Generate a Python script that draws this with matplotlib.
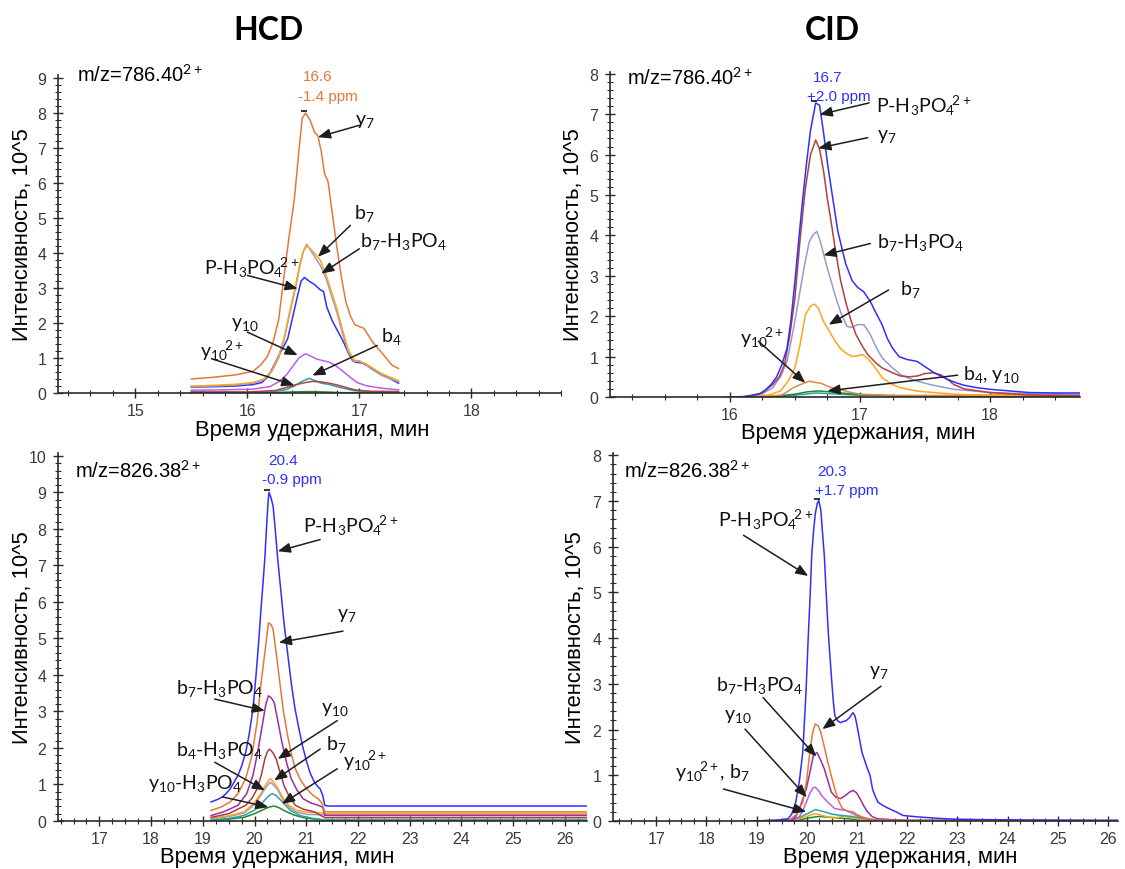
import matplotlib
matplotlib.use("Agg")
import matplotlib.pyplot as plt
import matplotlib.transforms as mtransforms
from matplotlib.ticker import MultipleLocator

plt.rcParams['font.family'] = ['Liberation Sans', 'DejaVu Sans']
plt.rcParams['mathtext.fontset'] = 'custom'
plt.rcParams['mathtext.rm'] = 'Lato'
plt.rcParams['mathtext.it'] = 'Lato:italic'
plt.rcParams['mathtext.bf'] = 'Lato:bold'

# ---------------------------------------------------------------- data
# HCD, m/z 786.40 (2+)
hcd786_y7_t = [15.50, 15.70, 15.90, 16.05, 16.12, 16.18, 16.23, 16.28, 16.32, 16.37, 16.42, 16.46, 16.49, 16.52, 16.56, 16.60, 16.63, 16.66, 16.69, 16.72, 16.76, 16.80, 16.84, 16.88, 16.92, 16.96, 17.00, 17.04, 17.08, 17.12, 17.20, 17.29, 17.35]
hcd786_y7_i = [0.40, 0.45, 0.52, 0.62, 0.80, 1.05, 1.45, 2.10, 3.15, 4.40, 5.55, 6.90, 7.85, 8.00, 7.80, 7.45, 7.35, 6.90, 6.25, 6.05, 5.10, 4.15, 3.30, 2.60, 2.20, 1.95, 1.90, 1.85, 1.65, 1.45, 1.15, 0.80, 0.70]
hcd786_b7_t = [15.50, 15.70, 15.90, 16.05, 16.15, 16.22, 16.28, 16.33, 16.38, 16.43, 16.47, 16.50, 16.53, 16.57, 16.61, 16.65, 16.70, 16.75, 16.80, 16.85, 16.90, 16.95, 17.00, 17.05, 17.10, 17.20, 17.35]
hcd786_b7_i = [0.20, 0.22, 0.25, 0.30, 0.40, 0.65, 1.05, 1.60, 2.35, 3.05, 3.70, 4.05, 4.20, 4.10, 3.95, 3.80, 3.40, 2.90, 2.40, 1.80, 1.25, 0.95, 0.90, 0.85, 0.75, 0.55, 0.35]
hcd786_b7h_t = [15.50, 15.70, 15.90, 16.05, 16.15, 16.22, 16.28, 16.33, 16.38, 16.43, 16.47, 16.50, 16.53, 16.57, 16.61, 16.65, 16.70, 16.75, 16.80, 16.85, 16.90, 16.95, 17.00, 17.05, 17.10, 17.20, 17.35]
hcd786_b7h_i = [0.18, 0.20, 0.23, 0.28, 0.38, 0.62, 1.00, 1.55, 2.30, 3.00, 3.65, 4.05, 4.25, 4.05, 3.85, 3.65, 3.30, 2.80, 2.30, 1.70, 1.18, 0.90, 0.92, 0.82, 0.70, 0.50, 0.32]
hcd786_p_t = [15.50, 15.70, 15.90, 16.05, 16.13, 16.18, 16.22, 16.27, 16.32, 16.36, 16.40, 16.45, 16.48, 16.51, 16.55, 16.60, 16.65, 16.68, 16.71, 16.76, 16.81, 16.86, 16.90, 16.94, 16.97, 17.02, 17.06, 17.11, 17.16, 17.25, 17.35]
hcd786_p_i = [0.17, 0.18, 0.20, 0.24, 0.30, 0.45, 0.68, 1.00, 1.30, 1.55, 2.10, 2.80, 3.20, 3.30, 3.20, 3.10, 2.95, 2.90, 2.45, 2.05, 1.75, 1.45, 1.15, 0.92, 0.88, 0.86, 0.80, 0.72, 0.60, 0.45, 0.28]
hcd786_y10_t = [15.50, 15.80, 16.05, 16.20, 16.28, 16.35, 16.41, 16.46, 16.52, 16.57, 16.62, 16.68, 16.73, 16.78, 16.83, 16.88, 16.93, 16.98, 17.05, 17.15, 17.25, 17.35]
hcd786_y10_i = [0.08, 0.09, 0.11, 0.18, 0.32, 0.52, 0.78, 1.00, 1.12, 1.05, 0.97, 0.92, 0.88, 0.80, 0.68, 0.55, 0.42, 0.30, 0.22, 0.16, 0.12, 0.09]
hcd786_b4_t = [15.50, 16.00, 16.25, 16.35, 16.42, 16.48, 16.55, 16.60, 16.66, 16.72, 16.80, 16.88, 16.95, 17.05, 17.20, 17.35]
hcd786_b4_i = [0.02, 0.02, 0.04, 0.10, 0.20, 0.32, 0.42, 0.36, 0.28, 0.25, 0.18, 0.12, 0.07, 0.04, 0.03, 0.02]
hcd786_y10z_t = [15.50, 16.00, 16.25, 16.36, 16.45, 16.52, 16.58, 16.65, 16.73, 16.80, 16.86, 16.92, 16.98, 17.10, 17.35]
hcd786_y10z_i = [0.03, 0.03, 0.07, 0.17, 0.25, 0.30, 0.33, 0.32, 0.28, 0.23, 0.18, 0.12, 0.08, 0.05, 0.04]
hcd786_g_t = [15.50, 16.20, 16.40, 16.55, 16.70, 16.85, 17.35]
hcd786_g_i = [0.01, 0.01, 0.03, 0.04, 0.03, 0.01, 0.01]

# CID, m/z 786.40 (2+)
cid786_p_t = [15.97, 16.10, 16.17, 16.23, 16.28, 16.32, 16.36, 16.40, 16.44, 16.47, 16.50, 16.53, 16.56, 16.59, 16.62, 16.66, 16.69, 16.72, 16.75, 16.78, 16.83, 16.89, 16.94, 16.98, 17.03, 17.08, 17.12, 17.17, 17.21, 17.25, 17.30, 17.36, 17.44, 17.50, 17.56, 17.62, 17.67, 17.74, 17.80, 17.90, 18.00, 18.15, 18.30, 18.50, 18.70]
cid786_p_i = [0.00, 0.01, 0.03, 0.08, 0.19, 0.32, 0.50, 0.80, 1.21, 1.90, 2.85, 3.90, 4.90, 5.80, 6.60, 7.28, 7.22, 6.55, 5.80, 5.15, 4.10, 3.30, 2.88, 2.72, 2.60, 2.36, 2.10, 1.79, 1.45, 1.21, 1.00, 0.93, 0.88, 0.75, 0.62, 0.52, 0.44, 0.35, 0.29, 0.23, 0.19, 0.15, 0.11, 0.10, 0.10]
cid786_y7_t = [16.10, 16.25, 16.33, 16.38, 16.42, 16.46, 16.50, 16.54, 16.58, 16.62, 16.66, 16.69, 16.72, 16.75, 16.78, 16.81, 16.85, 16.89, 16.93, 16.97, 17.02, 17.06, 17.12, 17.17, 17.25, 17.31, 17.38, 17.44, 17.50, 17.56, 17.62, 17.68, 17.72, 17.80, 18.00, 18.30, 18.70]
cid786_y7_i = [0.00, 0.10, 0.31, 0.50, 0.80, 1.50, 2.44, 3.90, 5.15, 6.00, 6.36, 6.13, 5.60, 4.90, 4.30, 3.67, 2.90, 2.36, 1.90, 1.54, 1.25, 1.05, 0.85, 0.72, 0.60, 0.52, 0.50, 0.52, 0.58, 0.60, 0.55, 0.42, 0.31, 0.20, 0.11, 0.05, 0.03]
cid786_b7h_t = [16.10, 16.25, 16.33, 16.39, 16.44, 16.49, 16.53, 16.57, 16.61, 16.64, 16.67, 16.70, 16.74, 16.78, 16.82, 16.86, 16.90, 16.94, 16.98, 17.03, 17.08, 17.13, 17.17, 17.24, 17.31, 17.38, 17.44, 17.55, 17.72, 17.90, 18.00, 18.30, 18.70]
cid786_b7h_i = [0.00, 0.08, 0.23, 0.50, 0.89, 1.70, 2.44, 3.20, 3.84, 4.02, 4.10, 3.80, 3.30, 2.85, 2.40, 2.03, 1.75, 1.72, 1.79, 1.79, 1.54, 1.20, 0.97, 0.75, 0.56, 0.46, 0.39, 0.30, 0.19, 0.14, 0.11, 0.08, 0.07]
cid786_b7_t = [16.10, 16.30, 16.39, 16.45, 16.50, 16.54, 16.58, 16.62, 16.65, 16.68, 16.72, 16.77, 16.81, 16.85, 16.89, 16.94, 16.98, 17.02, 17.06, 17.10, 17.17, 17.24, 17.31, 17.45, 17.72, 18.00, 18.70]
cid786_b7_i = [0.00, 0.05, 0.15, 0.40, 0.72, 1.30, 2.03, 2.25, 2.30, 2.20, 1.87, 1.60, 1.38, 1.20, 1.09, 1.00, 1.02, 1.05, 0.95, 0.80, 0.48, 0.32, 0.23, 0.14, 0.07, 0.04, 0.02]
cid786_y10z_t = [16.20, 16.40, 16.50, 16.56, 16.61, 16.66, 16.70, 16.75, 16.80, 16.86, 16.92, 17.00, 17.20, 17.60, 18.00, 18.70]
cid786_y10z_i = [0.00, 0.05, 0.25, 0.33, 0.39, 0.36, 0.34, 0.27, 0.21, 0.17, 0.12, 0.07, 0.04, 0.04, 0.05, 0.06]
cid786_b4_t = [16.30, 16.50, 16.60, 16.68, 16.76, 16.85, 17.00, 17.30, 18.70]
cid786_b4_i = [0.00, 0.07, 0.13, 0.15, 0.13, 0.10, 0.06, 0.03, 0.02]
cid786_y10_t = [16.30, 16.55, 16.66, 16.78, 16.95, 17.30, 18.70]
cid786_y10_i = [0.00, 0.06, 0.10, 0.08, 0.05, 0.02, 0.01]

# HCD, m/z 826.38 (2+)
hcd826_p_t = [19.16, 19.30, 19.38, 19.45, 19.53, 19.60, 19.68, 19.75, 19.83, 19.90, 19.97, 20.03, 20.08, 20.12, 20.16, 20.20, 20.23, 20.26, 20.28, 20.32, 20.36, 20.40, 20.45, 20.51, 20.57, 20.64, 20.71, 20.78, 20.86, 20.93, 21.01, 21.08, 21.16, 21.22, 21.27, 21.32, 21.36, 21.42, 26.43]
hcd826_p_i = [0.52, 0.60, 0.66, 0.75, 0.88, 1.05, 1.25, 1.50, 1.88, 2.40, 3.07, 4.00, 4.89, 5.70, 6.43, 7.20, 7.98, 8.70, 9.00, 8.85, 8.62, 8.00, 7.16, 6.30, 5.43, 4.60, 3.79, 3.10, 2.52, 2.05, 1.61, 1.30, 1.06, 0.95, 0.88, 0.70, 0.43, 0.41, 0.41]
hcd826_y7_t = [19.16, 19.35, 19.53, 19.68, 19.83, 19.95, 20.05, 20.12, 20.20, 20.27, 20.32, 20.36, 20.42, 20.49, 20.56, 20.64, 20.72, 20.79, 20.90, 21.01, 21.12, 21.23, 21.30, 21.36, 21.42, 26.43]
hcd826_y7_i = [0.29, 0.38, 0.52, 0.75, 1.16, 1.80, 2.70, 3.70, 4.61, 5.43, 5.38, 5.25, 4.60, 3.79, 3.00, 2.34, 1.80, 1.43, 1.10, 0.88, 0.72, 0.61, 0.50, 0.25, 0.25, 0.25]
hcd826_b7h_t = [19.16, 19.40, 19.68, 19.85, 19.97, 20.07, 20.16, 20.22, 20.27, 20.32, 20.38, 20.45, 20.53, 20.62, 20.71, 20.82, 20.94, 21.08, 21.23, 21.32, 21.36, 26.43]
hcd826_b7h_i = [0.15, 0.25, 0.43, 0.75, 1.25, 1.95, 2.70, 3.20, 3.43, 3.38, 3.25, 2.75, 2.16, 1.60, 1.16, 0.85, 0.61, 0.50, 0.43, 0.38, 0.15, 0.15]
hcd826_y10_t = [19.16, 19.50, 19.83, 19.95, 20.05, 20.13, 20.20, 20.25, 20.29, 20.35, 20.42, 20.50, 20.57, 20.68, 20.79, 20.95, 21.16, 21.36, 26.43]
hcd826_y10_i = [0.10, 0.20, 0.43, 0.62, 0.88, 1.25, 1.70, 1.90, 1.97, 1.88, 1.70, 1.30, 0.97, 0.65, 0.43, 0.32, 0.25, 0.09, 0.09]
hcd826_b7_t = [19.16, 19.50, 19.80, 20.00, 20.12, 20.22, 20.28, 20.31, 20.36, 20.45, 20.60, 20.80, 21.00, 21.30, 21.36, 26.43]
hcd826_b7_i = [0.08, 0.14, 0.25, 0.50, 0.75, 1.00, 1.12, 1.16, 1.08, 0.90, 0.50, 0.30, 0.24, 0.22, 0.20, 0.20]
hcd826_b4h_t = [19.16, 19.50, 19.80, 20.00, 20.12, 20.22, 20.30, 20.36, 20.45, 20.60, 20.80, 21.00, 21.30, 21.36, 26.43]
hcd826_b4h_i = [0.06, 0.12, 0.22, 0.45, 0.70, 0.92, 1.06, 1.00, 0.85, 0.45, 0.25, 0.18, 0.17, 0.17, 0.17]
hcd826_y10z_t = [19.16, 19.50, 19.80, 20.00, 20.15, 20.27, 20.34, 20.42, 20.52, 20.70, 20.90, 21.10, 21.36, 26.43]
hcd826_y10z_i = [0.03, 0.07, 0.15, 0.30, 0.50, 0.68, 0.75, 0.70, 0.55, 0.28, 0.14, 0.08, 0.03, 0.03]
hcd826_y10h_t = [19.16, 19.50, 19.80, 20.00, 20.15, 20.28, 20.38, 20.48, 20.58, 20.75, 20.95, 21.15, 21.36, 26.43]
hcd826_y10h_i = [0.02, 0.05, 0.10, 0.20, 0.30, 0.38, 0.41, 0.36, 0.28, 0.17, 0.09, 0.05, 0.02, 0.01]

# CID, m/z 826.38 (2+)
cid826_p_t = [18.90, 19.35, 19.63, 19.70, 19.78, 19.85, 19.92, 19.98, 20.03, 20.07, 20.10, 20.14, 20.17, 20.21, 20.24, 20.28, 20.31, 20.35, 20.38, 20.43, 20.49, 20.53, 20.56, 20.61, 20.67, 20.73, 20.78, 20.85, 20.92, 20.96, 20.99, 21.05, 21.10, 21.16, 21.21, 21.26, 21.31, 21.36, 21.42, 21.53, 21.64, 21.78, 21.92, 22.21, 22.60, 22.92, 23.50, 24.50, 25.78, 26.20]
cid826_p_i = [0.00, 0.01, 0.05, 0.15, 0.41, 0.85, 1.50, 2.70, 4.04, 5.00, 5.85, 6.40, 6.72, 6.95, 7.01, 6.80, 6.36, 5.80, 5.13, 4.10, 3.17, 2.60, 2.30, 2.20, 2.15, 2.18, 2.19, 2.26, 2.37, 2.30, 2.15, 1.80, 1.50, 1.30, 1.14, 1.00, 0.70, 0.55, 0.41, 0.33, 0.27, 0.20, 0.12, 0.09, 0.06, 0.04, 0.03, 0.02, 0.01, 0.01]
cid826_y7_t = [18.90, 19.63, 19.80, 19.92, 20.00, 20.06, 20.12, 20.17, 20.23, 20.28, 20.35, 20.42, 20.49, 20.56, 20.63, 20.71, 20.80, 20.92, 21.00, 21.10, 21.30, 22.00, 26.20]
cid826_y7_i = [0.00, 0.00, 0.15, 0.41, 0.90, 1.50, 1.95, 2.12, 2.08, 1.94, 1.62, 1.28, 0.98, 0.70, 0.45, 0.27, 0.22, 0.20, 0.14, 0.09, 0.03, 0.01, 0.01]
cid826_b7h_t = [18.90, 19.70, 19.78, 19.88, 19.99, 20.07, 20.13, 20.20, 20.27, 20.35, 20.42, 20.49, 20.58, 20.67, 20.76, 20.85, 20.92, 20.99, 21.06, 21.14, 21.21, 21.30, 21.40, 22.00, 26.20]
cid826_b7h_i = [0.00, 0.02, 0.09, 0.35, 0.70, 1.10, 1.43, 1.50, 1.35, 1.14, 0.88, 0.63, 0.52, 0.49, 0.55, 0.63, 0.67, 0.62, 0.49, 0.32, 0.20, 0.10, 0.05, 0.01, 0.01]
cid826_y10_t = [18.90, 19.75, 19.85, 19.92, 19.99, 20.06, 20.12, 20.17, 20.24, 20.30, 20.35, 20.45, 20.56, 20.67, 20.78, 20.88, 20.99, 21.10, 21.21, 21.40, 22.00, 26.20]
cid826_y10_i = [0.00, 0.03, 0.09, 0.22, 0.41, 0.60, 0.72, 0.74, 0.66, 0.55, 0.49, 0.38, 0.27, 0.25, 0.23, 0.18, 0.12, 0.08, 0.05, 0.02, 0.01, 0.01]
cid826_y10z_t = [18.90, 19.70, 19.90, 20.05, 20.17, 20.25, 20.35, 20.50, 20.70, 20.90, 21.10, 21.40, 22.00, 26.20]
cid826_y10z_i = [0.00, 0.02, 0.10, 0.18, 0.25, 0.23, 0.20, 0.15, 0.12, 0.10, 0.06, 0.02, 0.01, 0.01]
cid826_b7_t = [18.90, 19.70, 19.95, 20.10, 20.18, 20.30, 20.45, 20.60, 20.72, 20.85, 21.00, 21.20, 21.50, 26.20]
cid826_b7_i = [0.00, 0.01, 0.08, 0.14, 0.16, 0.12, 0.08, 0.07, 0.11, 0.08, 0.05, 0.03, 0.01, 0.00]
cid826_g_t = [18.90, 19.80, 20.05, 20.25, 20.45, 20.70, 21.00, 21.40, 26.20]
cid826_g_i = [0.00, 0.01, 0.07, 0.10, 0.08, 0.06, 0.03, 0.01, 0.00]

# peak labels: retention time and mass error
apex_labels = [("16.6", "-1.4 ppm"), ("16.7", "+2.0 ppm"), ("20.4", "-0.9 ppm"), ("20.3", "+1.7 ppm")]
precursor_labels = ["m/z=786.40$^{2+}$", "m/z=786.40$^{2+}$", "m/z=826.38$^{2+}$", "m/z=826.38$^{2+}$"]
column_titles = ["HCD", "CID"]

# ion labels (mathtext)
P_ION = r"P-H$_3$PO$_4\!{}^{2+}$"
Y10_2 = r"y$_{10}\!{}^{2+}$"

# ---------------------------------------------------------------- style
BLUE = '#2f2fff'
ORANGE = '#e4783a'
YELLOW = '#ffa41c'
LAVENDER = '#9a98cc'
VIOLET = '#b462ee'
MAGENTA = '#9a2f9a'
BROWN = '#b2403f'
DKRED = '#a83a4a'
PEACH = '#e08650'
TEAL = '#25a5a5'
GREEN = '#1f8a2a'
ARROW = '#1e1e1e'
TICK = '#3a3a3a'

W, H = 1125, 870
fig = plt.figure(figsize=(W / 100, H / 100), dpi=100)


def add_panel(left, top, right, bottom, xlim, ylim, xminor):
    ax = fig.add_axes([left / W, 1 - bottom / H, (right - left) / W, (bottom - top) / H])
    ax.set_xlim(*xlim)
    ax.set_ylim(*ylim)
    for side in ('top', 'right'):
        ax.spines[side].set_visible(False)
    for side in ('left', 'bottom'):
        ax.spines[side].set_color('#2a2a2a')
        ax.spines[side].set_linewidth(1.2)
    ax.xaxis.set_major_locator(MultipleLocator(1))
    ax.xaxis.set_minor_locator(MultipleLocator(xminor))
    ax.yaxis.set_major_locator(MultipleLocator(1))
    ax.yaxis.set_minor_locator(MultipleLocator(0.2))
    ax.tick_params(which='major', direction='inout', length=7, width=1.0, color='#2a2a2a',
                   labelsize=11.5, labelcolor=TICK, pad=4)
    ax.tick_params(which='minor', direction='inout', length=4, width=0.8, color='#2a2a2a')
    ax.tick_params(axis='y', which='major', pad=5)
    return ax


def draw(ax, series):
    for t, i, c in series:
        ax.plot(t, i, color=c, lw=1.1, solid_joinstyle='round')


def apex(ax, t, i):
    # short dark tick at the apex of the labelled trace
    k = max(range(len(i)), key=lambda n: i[n])
    off = mtransforms.offset_copy(ax.transData, fig=fig, x=-2, y=2, units='dots')
    ax.plot([t[k]], [i[k]], marker='_', ms=5, mew=1.3, color='#222222', transform=off, clip_on=False)


def note(ax, label, txt, tail, head):
    ax.annotate('', xy=head, xytext=tail,
                arrowprops=dict(arrowstyle='-|>,head_length=0.75,head_width=0.3', color=ARROW,
                                lw=1.1, shrinkA=0, shrinkB=0))
    ax.text(txt[0], txt[1], label, ha='left', va='center', fontsize=14, family='Lato',
            color='#111111', clip_on=False)


def ppm(ax, labels, p1, p2, color):
    ax.text(p1[0], p1[1], labels[0], ha='center', va='center', fontsize=11, color=color, clip_on=False)
    ax.text(p2[0], p2[1], labels[1], ha='center', va='center', fontsize=11, color=color, clip_on=False)


def axis_titles(cx_x, cy_x, cx_y, cy_y):
    fig.text(cx_x / W, 1 - cy_x / H, "Время удержания, мин", ha='center', va='center', fontsize=15.8)
    fig.text(cx_y / W, 1 - cy_y / H, "Интенсивность, 10^5", ha='center', va='center', fontsize=15.8,
             rotation=90)


# ---------------------------------------------------------------- HCD 786.40
ax1 = add_panel(58, 75.5, 561, 394, (14.31, 18.80), (0, 9.1), 0.2)
draw(ax1, [(hcd786_g_t, hcd786_g_i, GREEN), (hcd786_b4_t, hcd786_b4_i, TEAL),
           (hcd786_y10z_t, hcd786_y10z_i, BROWN), (hcd786_y10_t, hcd786_y10_i, VIOLET),
           (hcd786_p_t, hcd786_p_i, BLUE), (hcd786_b7h_t, hcd786_b7h_i, LAVENDER),
           (hcd786_b7_t, hcd786_b7_i, YELLOW), (hcd786_y7_t, hcd786_y7_i, ORANGE)])
apex(ax1, hcd786_y7_t, hcd786_y7_i)
ppm(ax1, apex_labels[0], (16.63, 9.05), (16.72, 8.50), ORANGE)
note(ax1, "y$_7$", (16.96, 7.79), (17.00, 7.65), (16.63, 7.31))
note(ax1, "b$_7$", (16.95, 5.17), (16.92, 4.79), (16.63, 3.89))
note(ax1, "b$_7$-H$_3$PO$_4$", (17.01, 4.36), (17.00, 4.12), (16.66, 3.41))
note(ax1, P_ION, (15.61, 3.60), (16.00, 3.36), (16.45, 2.98))
note(ax1, "y$_{10}$", (15.85, 1.98), (16.00, 1.74), (16.45, 1.08))
note(ax1, Y10_2, (15.58, 1.22), (15.68, 0.98), (16.42, 0.22))
note(ax1, "b$_4$", (17.19, 1.65), (17.16, 1.36), (16.58, 0.50))
axis_titles(312, 431, 23, 235)

# ---------------------------------------------------------------- CID 786.40
ax2 = add_panel(610, 72.8, 1080, 398, (15.08, 18.69), (0, 8.05), 0.25)
draw(ax2, [(cid786_y10_t, cid786_y10_i, TEAL), (cid786_b4_t, cid786_b4_i, GREEN),
           (cid786_y10z_t, cid786_y10z_i, PEACH), (cid786_b7_t, cid786_b7_i, YELLOW),
           (cid786_b7h_t, cid786_b7h_i, LAVENDER), (cid786_y7_t, cid786_y7_i, BROWN),
           (cid786_p_t, cid786_p_i, BLUE)])
apex(ax2, cid786_p_t, cid786_p_i)
ppm(ax2, apex_labels[1], (16.75, 7.93), (16.84, 7.44), BLUE)
note(ax2, P_ION, (17.12, 7.24), (17.07, 7.28), (16.69, 6.99))
note(ax2, "y$_7$", (17.13, 6.48), (17.06, 6.42), (16.68, 6.16))
note(ax2, "b$_7$-H$_3$PO$_4$", (17.13, 3.84), (17.08, 3.80), (16.72, 3.51))
note(ax2, "b$_7$", (17.31, 2.69), (17.22, 2.65), (16.76, 1.79))
note(ax2, Y10_2, (16.08, 1.50), (16.22, 1.38), (16.58, 0.35))
note(ax2, "b$_4$, y$_{10}$", (17.79, 0.57), (17.75, 0.54), (16.75, 0.15))
axis_titles(858, 433, 573, 235)

# ---------------------------------------------------------------- HCD 826.38
ax3 = add_panel(58, 454, 587, 822, (16.2, 26.43), (0, 10.08), 0.25)
draw(ax3, [(hcd826_y10h_t, hcd826_y10h_i, GREEN), (hcd826_y10z_t, hcd826_y10z_i, TEAL),
           (hcd826_b4h_t, hcd826_b4h_i, LAVENDER), (hcd826_b7_t, hcd826_b7_i, YELLOW),
           (hcd826_y10_t, hcd826_y10_i, DKRED), (hcd826_b7h_t, hcd826_b7h_i, MAGENTA),
           (hcd826_y7_t, hcd826_y7_i, ORANGE), (hcd826_p_t, hcd826_p_i, BLUE)])
apex(ax3, hcd826_p_t, hcd826_p_i)
ppm(ax3, apex_labels[2], (20.55, 9.89), (20.72, 9.37), BLUE)
note(ax3, P_ION, (20.93, 8.12), (21.27, 7.71), (20.45, 7.39))
note(ax3, "y$_7$", (21.59, 5.66), (21.71, 5.20), (20.47, 4.89))
note(ax3, "b$_7$-H$_3$PO$_4$", (18.48, 3.66), (19.23, 3.34), (20.20, 3.02))
note(ax3, "y$_{10}$", (21.29, 3.07), (21.60, 2.75), (20.45, 1.70))
note(ax3, "b$_4$-H$_3$PO$_4$", (18.48, 1.97), (19.23, 1.61), (20.20, 0.84))
note(ax3, "b$_7$", (21.39, 2.11), (21.27, 1.97), (20.38, 1.11))
note(ax3, Y10_2, (21.71, 1.66), (21.60, 1.43), (20.53, 0.47))
note(ax3, "y$_{10}$-H$_3$PO$_4$", (17.94, 1.06), (19.38, 0.66), (20.27, 0.38))
axis_titles(277, 858, 23, 638)

# ---------------------------------------------------------------- CID 826.38
ax4 = add_panel(613, 454, 1118, 822, (16.14, 26.20), (0, 8.05), 0.25)
draw(ax4, [(cid826_g_t, cid826_g_i, GREEN), (cid826_b7_t, cid826_b7_i, YELLOW),
           (cid826_y10z_t, cid826_y10z_i, TEAL), (cid826_y10_t, cid826_y10_i, VIOLET),
           (cid826_b7h_t, cid826_b7h_i, MAGENTA), (cid826_y7_t, cid826_y7_i, ORANGE),
           (cid826_p_t, cid826_p_i, BLUE)])
apex(ax4, cid826_p_t, cid826_p_i)
ppm(ax4, apex_labels[3], (20.51, 7.66), (20.80, 7.24), BLUE)
note(ax4, P_ION, (18.24, 6.61), (18.74, 6.25), (20.03, 5.36))
note(ax4, "y$_7$", (21.24, 3.28), (21.48, 2.95), (20.31, 2.01))
note(ax4, "b$_7$-H$_3$PO$_4$", (18.20, 2.99), (19.13, 2.70), (20.19, 1.41))
note(ax4, "y$_{10}$", (18.36, 2.30), (18.77, 2.01), (20.00, 0.52))
note(ax4, Y10_2 + ", b$_7$", (17.38, 1.10), (18.34, 0.70), (19.99, 0.20))
axis_titles(900, 858, 575, 638)

# ---------------------------------------------------------------- headings
fig.text(77 / W, 1 - 75 / H, precursor_labels[0], ha='left', va='center', fontsize=14.5)
fig.text(627 / W, 1 - 78 / H, precursor_labels[1], ha='left', va='center', fontsize=14.5)
fig.text(75 / W, 1 - 471 / H, precursor_labels[2], ha='left', va='center', fontsize=14.5)
fig.text(624 / W, 1 - 471 / H, precursor_labels[3], ha='left', va='center', fontsize=14.5)
fig.text(268 / W, 1 - 30 / H, column_titles[0], ha='center', va='center', fontsize=23,
         family='Lato', weight='bold')
fig.text(832 / W, 1 - 30 / H, column_titles[1], ha='center', va='center', fontsize=23,
         family='Lato', weight='bold')

fig.savefig("out.png", dpi=100)
